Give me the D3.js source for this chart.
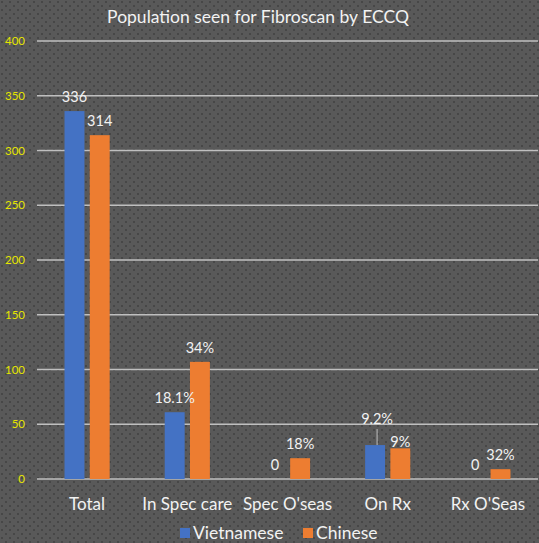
<!DOCTYPE html>
<html>
<head>
<meta charset="utf-8">
<script src="https://cdn.jsdelivr.net/npm/d3@7"></script>
<style>
  body { margin: 0; padding: 0; background: #595959; }
  svg { display: block; font-family: Lato, "Open Sans", sans-serif; }
</style>
</head>
<body>
<div id="chart"></div>
<script>
const categories = ['Total', 'In Spec care', "Spec O'seas", 'On Rx', "Rx O'Seas"];
const series = ['Vietnamese', 'Chinese'];
const vietnamese = [336, 61, 0, 31, 0];
const chinese = [314, 107, 19, 28, 9];
const vietnameseLabels = ['336', '18.1%', '0', '9.2%', '0'];
const chineseLabels = ['314', '34%', '18%', '9%', '32%'];
const yTicks = [0, 50, 100, 150, 200, 250, 300, 350, 400];
const colours = ['#4472c4', '#ed7d31'];

const width = 539;
const height = 543;
const margin = { top: 41, right: 1, bottom: 64, left: 37 };

const svg = d3.select('#chart')
  .append('svg')
  .attr('width', width)
  .attr('height', height);

// dotted background
const defs = svg.append('defs');
const pat = defs.append('pattern')
  .attr('id', 'dots')
  .attr('width', 8)
  .attr('height', 8)
  .attr('patternUnits', 'userSpaceOnUse');
pat.append('rect').attr('width', 8).attr('height', 8).attr('fill', '#595959');
pat.append('rect').attr('x', 1).attr('y', 1).attr('width', 2).attr('height', 2).attr('fill', '#474747');
pat.append('rect').attr('x', 5).attr('y', 5).attr('width', 2).attr('height', 2).attr('fill', '#474747');

svg.append('rect')
  .attr('width', width)
  .attr('height', height)
  .attr('fill', 'url(#dots)');

const x = d3.scaleBand()
  .domain(categories)
  .range([margin.left, width - margin.right])
  .paddingInner(0)
  .paddingOuter(0);

const inner = d3.scaleBand()
  .domain(series)
  .range([0, x.bandwidth()])
  .paddingInner(0.21)
  .paddingOuter(1.09);

const y = d3.scaleLinear()
  .domain([0, 400])
  .range([height - margin.bottom, margin.top]);

// title
svg.append('text')
  .attr('x', 258)
  .attr('y', 23)
  .attr('text-anchor', 'middle')
  .attr('fill', '#f2f2f2')
  .attr('font-size', 17.5)
  .text('Population seen for Fibroscan by ECCQ');

// gridlines
svg.append('g')
  .selectAll('line')
  .data(yTicks)
  .enter().append('line')
    .attr('x1', margin.left)
    .attr('x2', width - 1)
    .attr('y1', d => y(d))
    .attr('y2', d => y(d))
    .attr('stroke', '#bfbfbf')
    .attr('stroke-width', 1.5);

// y labels
svg.append('g')
  .selectAll('text')
  .data(yTicks)
  .enter().append('text')
    .attr('x', 25)
    .attr('y', d => y(d))
    .attr('dy', '0.35em')
    .attr('text-anchor', 'end')
    .attr('fill', '#e6e600')
    .attr('font-size', 11.5)
    .text(d => d);

const rows = categories.map((c, i) => ({
  cat: c,
  values: [
    { key: series[0], value: vietnamese[i], label: vietnameseLabels[i] },
    { key: series[1], value: chinese[i], label: chineseLabels[i] }
  ]
}));

const groups = svg.append('g')
  .selectAll('g')
  .data(rows)
  .enter().append('g')
    .attr('transform', d => `translate(${x(d.cat)},0)`);

groups.selectAll('rect')
  .data(d => d.values)
  .enter().append('rect')
    .attr('x', d => inner(d.key))
    .attr('y', d => y(d.value))
    .attr('width', inner.bandwidth())
    .attr('height', d => y(0) - y(d.value))
    .attr('fill', (d, i) => colours[i]);

// data labels; 9.2% is lifted with a leader line
groups.selectAll('text')
  .data(d => d.values)
  .enter().append('text')
    .attr('x', d => inner(d.key) + inner.bandwidth() / 2 + (d.label === '9.2%' ? 2 : 0))
    .attr('y', d => y(d.value) - (d.label === '9.2%' ? 26 : d.label === '9%' ? 6 : 14))
    .attr('dy', '0.35em')
    .attr('text-anchor', 'middle')
    .attr('fill', '#f2f2f2')
    .attr('font-size', 14.5)
    .text(d => d.label);

groups.filter(d => d.cat === 'On Rx')
  .append('line')
    .attr('x1', inner(series[0]) + inner.bandwidth() / 2 + 2)
    .attr('x2', inner(series[0]) + inner.bandwidth() / 2 + 2)
    .attr('y1', d => y(d.values[0].value) - 16)
    .attr('y2', d => y(d.values[0].value))
    .attr('stroke', '#bfbfbf')
    .attr('stroke-width', 1);

// x labels
svg.append('g')
  .selectAll('text')
  .data(categories)
  .enter().append('text')
    .attr('x', d => x(d) + x.bandwidth() / 2)
    .attr('y', 504)
    .attr('dy', '0.35em')
    .attr('text-anchor', 'middle')
    .attr('fill', '#f2f2f2')
    .attr('font-size', 17)
    .text(d => d);

// legend
const legend = svg.append('g')
  .selectAll('g')
  .data(series)
  .enter().append('g')
    .attr('transform', (d, i) => `translate(${180 + i * 123},533)`);

legend.append('rect')
  .attr('x', 0)
  .attr('y', -5)
  .attr('width', 10)
  .attr('height', 10)
  .attr('fill', (d, i) => colours[i]);

legend.append('text')
  .attr('x', 13)
  .attr('y', 0)
  .attr('dy', '0.35em')
  .attr('fill', '#f2f2f2')
  .attr('font-size', 17.5)
  .text(d => d);
</script>
</body>
</html>
